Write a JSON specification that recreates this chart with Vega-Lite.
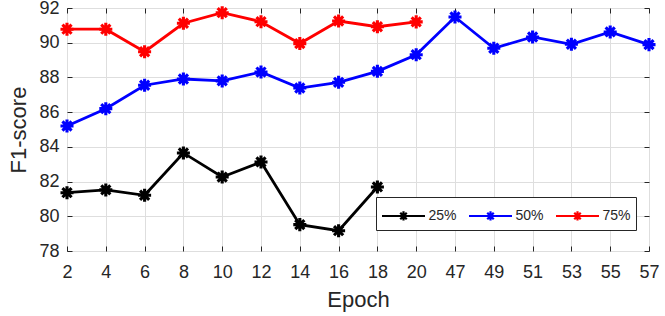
{
  "$schema": "https://vega.github.io/schema/vega-lite/v6.json",
  "width": 582,
  "height": 243,
  "autosize": "none",
  "padding": {"left": 67, "top": 8, "right": 16, "bottom": 65},
  "config": {
    "font": "Liberation Sans",
    "view": {"stroke": "#262626", "strokeWidth": 1}
  },
  "data": {
    "values": [
      {"epoch": 2, "ratio": "25%", "f1": 81.36},
      {"epoch": 4, "ratio": "25%", "f1": 81.52},
      {"epoch": 6, "ratio": "25%", "f1": 81.21},
      {"epoch": 8, "ratio": "25%", "f1": 83.65},
      {"epoch": 10, "ratio": "25%", "f1": 82.26},
      {"epoch": 12, "ratio": "25%", "f1": 83.13},
      {"epoch": 14, "ratio": "25%", "f1": 79.52},
      {"epoch": 16, "ratio": "25%", "f1": 79.17},
      {"epoch": 18, "ratio": "25%", "f1": 81.69},
      {"epoch": 2, "ratio": "50%", "f1": 85.2},
      {"epoch": 4, "ratio": "50%", "f1": 86.2},
      {"epoch": 6, "ratio": "50%", "f1": 87.55},
      {"epoch": 8, "ratio": "50%", "f1": 87.91},
      {"epoch": 10, "ratio": "50%", "f1": 87.8},
      {"epoch": 12, "ratio": "50%", "f1": 88.31},
      {"epoch": 14, "ratio": "50%", "f1": 87.39},
      {"epoch": 16, "ratio": "50%", "f1": 87.72},
      {"epoch": 18, "ratio": "50%", "f1": 88.35},
      {"epoch": 20, "ratio": "50%", "f1": 89.31},
      {"epoch": 47, "ratio": "50%", "f1": 91.48},
      {"epoch": 49, "ratio": "50%", "f1": 89.68},
      {"epoch": 51, "ratio": "50%", "f1": 90.33},
      {"epoch": 53, "ratio": "50%", "f1": 89.91},
      {"epoch": 55, "ratio": "50%", "f1": 90.62},
      {"epoch": 57, "ratio": "50%", "f1": 89.89},
      {"epoch": 2, "ratio": "75%", "f1": 90.78},
      {"epoch": 4, "ratio": "75%", "f1": 90.78},
      {"epoch": 6, "ratio": "75%", "f1": 89.48},
      {"epoch": 8, "ratio": "75%", "f1": 91.12},
      {"epoch": 10, "ratio": "75%", "f1": 91.73},
      {"epoch": 12, "ratio": "75%", "f1": 91.21},
      {"epoch": 14, "ratio": "75%", "f1": 89.95},
      {"epoch": 16, "ratio": "75%", "f1": 91.25},
      {"epoch": 18, "ratio": "75%", "f1": 90.92},
      {"epoch": 20, "ratio": "75%", "f1": 91.2}
    ]
  },
  "layer": [
    {
      "mark": {"type": "line", "strokeWidth": 2.8},
      "encoding": {
        "x": {
          "field": "epoch", "type": "ordinal", "scale": {"padding": 0},
          "axis": {
            "orient": "bottom", "title": "Epoch", "labelAngle": 0,
            "labelFontSize": 18, "labelColor": "#262626", "labelPadding": 17,
            "titleFontSize": 22, "titleFontWeight": "normal", "titleColor": "#262626", "titlePadding": 8,
            "domain": false, "ticks": true, "tickSize": -5, "tickColor": "#262626",
            "grid": true, "gridColor": "#dedede", "gridWidth": 1
          }
        },
        "y": {
          "field": "f1", "type": "quantitative",
          "scale": {"domain": [78, 92], "nice": false, "zero": false},
          "axis": {
            "orient": "left", "title": "F1-score", "values": [78, 80, 82, 84, 86, 88, 90, 92],
            "labelFontSize": 18, "labelColor": "#262626", "labelPadding": 13,
            "titleFontSize": 22, "titleFontWeight": "normal", "titleColor": "#262626", "titlePadding": 8,
            "domain": false, "ticks": true, "tickSize": -5, "tickColor": "#262626",
            "grid": true, "gridColor": "#dedede", "gridWidth": 1
          }
        },
        "color": {
          "field": "ratio", "type": "nominal",
          "scale": {"domain": ["25%", "50%", "75%"], "range": ["#000000", "#0000ff", "#ff0000"]},
          "legend": {
            "orient": "none", "legendX": 309, "legendY": 189, "direction": "horizontal",
            "title": null, "fillColor": "white", "strokeColor": "#262626", "padding": 4.5,
            "symbolType": "M-1,0H2.44M0.35,0H1.09M0.72,-0.37V0.37M0.46,-0.26L0.98,0.26M0.46,0.26L0.98,-0.26",
            "symbolSize": 625, "symbolStrokeWidth": 2.2, "labelFontSize": 14, "labelColor": "#262626",
            "labelOffset": 20, "columnPadding": 7
          }
        }
      }
    },
    {
      "mark": {"type": "point", "shape": "M-1,0L1,0M0,-1L0,1M-0.7,-0.7L0.7,0.7M-0.7,0.7L0.7,-0.7", "size": 170, "strokeWidth": 3.1, "filled": false, "opacity": 1},
      "encoding": {
        "x": {
          "field": "epoch", "type": "ordinal",
          "axis": {"orient": "top", "title": null, "labels": false, "domain": false, "grid": false, "tickSize": -5, "tickColor": "#262626"}
        },
        "y": {
          "field": "f1", "type": "quantitative",
          "axis": {"orient": "right", "title": null, "labels": false, "domain": false, "grid": false, "values": [78, 80, 82, 84, 86, 88, 90, 92], "tickSize": -5, "tickColor": "#262626"}
        },
        "color": {"field": "ratio", "type": "nominal", "legend": null}
      }
    }
  ],
  "resolve": {"axis": {"x": "independent", "y": "independent"}}
}
